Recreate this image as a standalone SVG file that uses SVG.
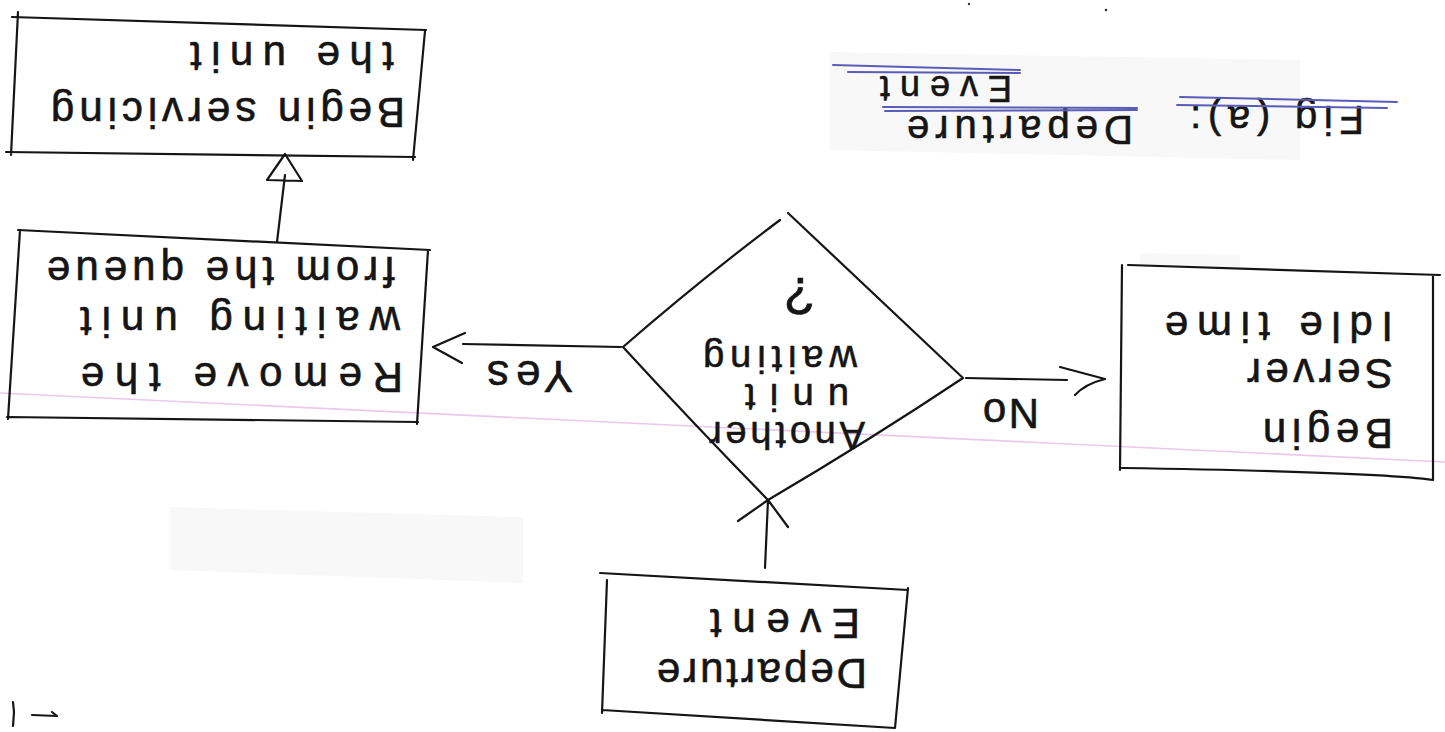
<svg xmlns="http://www.w3.org/2000/svg" width="1445" height="732" viewBox="0 0 1445 732">
  <style>
    .ink { fill: none; stroke: #151515; stroke-width: 2.2; stroke-linecap: round; stroke-linejoin: round; }
    .rule { fill: none; stroke: #5b5cb8; stroke-width: 2; stroke-linecap: round; }
    .hw { font-family: "Liberation Sans", "DejaVu Sans", sans-serif; fill: #151515; stroke: #151515; stroke-width: 0.6; }
    .smudge { fill: #f8f8f8; }
  </style>

  <!-- paper -->
  <rect width="1445" height="732" fill="#ffffff"/>
  <g id="paper-marks">
    <polygon class="smudge" points="170,507 523,517 523,583 170,570"/>
    <polygon class="smudge" points="830,52 1300,60 1300,160 830,150"/>
    <polygon class="smudge" points="1140,253 1240,255 1240,268 1140,266"/>
    <line x1="0" y1="393" x2="1445" y2="462" stroke="#ecc8ec" stroke-width="1.6"/>
    <circle cx="969" cy="4" r="1.2" fill="#333"/>
    <circle cx="1106" cy="10" r="1.3" fill="#333"/>
    <path class="ink" d="M13,702 L14,712 L13,726"/>
    <path class="ink" d="M32,715 L57,716 M52,712 L57,716"/>
  </g>

  <!-- figure title -->
  <g id="title">
    <text class="hw" font-size="40" transform="translate(1277,106) rotate(180)" x="-87" textLength="174" lengthAdjust="spacing">Fig (a):</text>
    <text class="hw" font-size="40" transform="translate(1020,116) rotate(180)" x="-113" textLength="226" lengthAdjust="spacing">Departure</text>
    <text class="hw" font-size="36" transform="translate(946,76) rotate(180)" x="-66" textLength="132" lengthAdjust="spacing">Event</text>
    <path class="rule" d="M833,65 L1020,70 M848,72 L1020,73 M883,107 L1137,108 M885,111 L1137,110 M1180,97 L1397,102 M1177,105 L1387,108"/>
  </g>

  <!-- process boxes -->
  <g id="begin-servicing">
    <path class="ink" d="M12,17 L426,30 M425,31 L413,160 M415,157 L6,152 M18,12 L11,155"/>
    <text class="hw" font-size="42" transform="translate(228,98) rotate(180)" x="-177" textLength="354" lengthAdjust="spacing">Begin servicing</text>
    <text class="hw" font-size="42" transform="translate(292,42) rotate(180)" x="-102" textLength="204" lengthAdjust="spacing">the unit</text>
  </g>

  <g id="remove-waiting">
    <path class="ink" d="M18,230 L430,250 M428,250 L417,424 M418,422 L7,417 M20,230 L8,419"/>
    <text class="hw" font-size="42" transform="translate(242,363) rotate(180)" x="-161" textLength="322" lengthAdjust="spacing">Remove the</text>
    <text class="hw" font-size="42" transform="translate(240,307) rotate(180)" x="-160" textLength="320" lengthAdjust="spacing">waiting unit</text>
    <text class="hw" font-size="42" transform="translate(221,257) rotate(180)" x="-174" textLength="348" lengthAdjust="spacing">from the queue</text>
  </g>

  <g id="another-unit-waiting">
    <path class="ink" d="M623,347 Q700,280 780,220 M788,213 Q880,300 963,378 Q870,440 768,500 Q690,420 623,347"/>
    <text class="hw" font-size="38" transform="translate(787,422) rotate(180)" x="-78" textLength="156" lengthAdjust="spacing">Another</text>
    <text class="hw" font-size="38" transform="translate(797,384) rotate(180)" x="-52" textLength="104" lengthAdjust="spacing">unit</text>
    <text class="hw" font-size="38" transform="translate(780,346) rotate(180)" x="-77" textLength="154" lengthAdjust="spacing">waiting</text>
    <text class="hw" font-size="52" transform="translate(800,278) rotate(180)" x="-14">?</text>
  </g>

  <g id="server-idle">
    <path class="ink" d="M1128,265 L1440,275 M1122,265 L1120,470 M1433,276 L1433,480 M1122,468 Q1380,472 1433,480"/>
    <text class="hw" font-size="42" transform="translate(1328,419) rotate(180)" x="-65" textLength="130" lengthAdjust="spacing">Begin</text>
    <text class="hw" font-size="42" transform="translate(1320,359) rotate(180)" x="-73" textLength="146" lengthAdjust="spacing">Server</text>
    <text class="hw" font-size="42" transform="translate(1279,312) rotate(180)" x="-114" textLength="228" lengthAdjust="spacing">Idle time</text>
  </g>

  <g id="departure-event">
    <path class="ink" d="M600,573 L908,590 M607,580 L602,713 M908,588 L895,728 M602,710 L895,728"/>
    <text class="hw" font-size="42" transform="translate(762,659) rotate(180)" x="-105" textLength="210" lengthAdjust="spacing">Departure</text>
    <text class="hw" font-size="42" transform="translate(785,609) rotate(180)" x="-75" textLength="150" lengthAdjust="spacing">Event</text>
  </g>

  <!-- connectors -->
  <g id="connectors">
    <!-- departure event up into the decision -->
    <path class="ink" d="M765,568 L768,500 M738,521 L768,500 L788,527"/>
    <!-- yes branch -->
    <path class="ink" d="M621,347 L463,344 M465,333 L433,347 L462,363"/>
    <text class="hw" font-size="44" transform="translate(530,361) rotate(180)" x="-43" textLength="86" lengthAdjust="spacing">Yes</text>
    <!-- no branch -->
    <path class="ink" d="M966,378 L1067,380 M1060,367 L1105,379 Q1085,384 1075,395"/>
    <text class="hw" font-size="42" transform="translate(1011,399) rotate(180)" x="-28" textLength="56" lengthAdjust="spacing">No</text>
    <!-- remove from queue up to begin servicing -->
    <path class="ink" d="M277,242 L285,175 M267,180 L285,154 L302,181 Z"/>
  </g>
</svg>
